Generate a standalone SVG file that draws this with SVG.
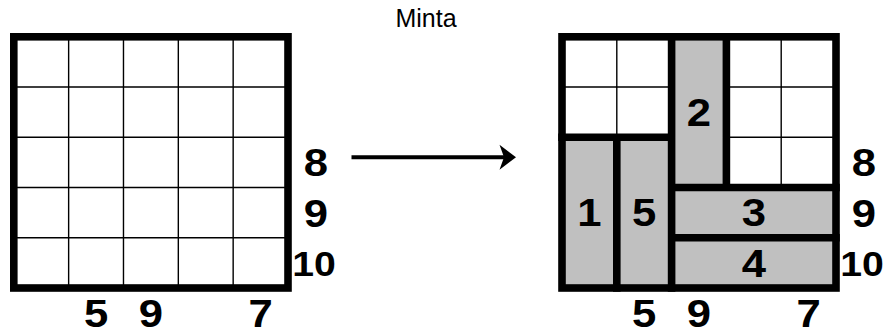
<svg xmlns="http://www.w3.org/2000/svg" width="885" height="335" viewBox="0 0 885 335">
<style>
.bg{fill:#ffffff}
.thin{stroke:#000;stroke-width:1.4;fill:none}
.thick{stroke:#000;stroke-width:7.6;fill:none;stroke-linecap:square}
.frame{stroke:#000;stroke-width:7.6;fill:none;stroke-linejoin:miter}
.piece{fill:#c0c0c0;stroke:none}
.num{font-family:"Liberation Sans",Arial,sans-serif;font-weight:bold;font-size:39px;fill:#000;text-anchor:middle;transform-box:fill-box;transform-origin:center;transform:scaleX(1.12)}
.num10{font-size:35px}
.title{font-family:"Liberation Sans",Arial,sans-serif;font-size:25px;fill:#000;text-anchor:middle}
</style>
<rect class="bg" x="0" y="0" width="885" height="335"/>
<text id="title" class="title" x="426" y="27">Minta</text>

<g id="left-grid">
  <rect x="13.8" y="36.8" width="274.2" height="251.2" fill="#fff"/>
  <path class="thin" d="M68.64 36.8V288M123.48 36.8V288M178.32 36.8V288M233.16 36.8V288M13.8 87.04H288M13.8 137.28H288M13.8 187.52H288M13.8 237.76H288"/>
  <rect class="frame" x="13.8" y="36.8" width="274.2" height="251.2"/>
</g>
<g id="left-row-labels">
  <text class="num" x="316" y="176.5">8</text>
  <text class="num" x="316" y="227">9</text>
  <text class="num num10" x="314" y="276.5">10</text>
</g>
<g id="left-col-labels">
  <text class="num" x="96.2" y="327">5</text>
  <text class="num" x="151" y="327">9</text>
  <text class="num" x="260.6" y="327">7</text>
</g>

<g id="connectors">
  <line x1="351.5" y1="157.3" x2="506" y2="157.3" stroke="#000" stroke-width="4"/>
  <polygon points="516,157.3 499.5,144.8 504,157.3 499.5,169.8" fill="#000"/>
</g>

<g id="right-grid">
  <rect x="562" y="36.8" width="274" height="251.2" fill="#fff"/>
  <rect id="piece-1" class="piece" x="562" y="137.28" width="54.8" height="150.72"/>
  <rect id="piece-5" class="piece" x="616.8" y="137.28" width="54.8" height="150.72"/>
  <rect id="piece-2" class="piece" x="671.6" y="36.8" width="54.8" height="150.72"/>
  <rect id="piece-3" class="piece" x="671.6" y="187.52" width="164.4" height="50.24"/>
  <rect id="piece-4" class="piece" x="671.6" y="237.76" width="164.4" height="50.24"/>
  <path class="thin" d="M616.8 36.8V137.28M562 87.04H671.6M781.2 36.8V187.52M726.4 87.04H836M726.4 137.28H836"/>
  <path class="thick" d="M616.8 137.28V288M671.6 36.8V288M726.4 36.8V187.52M562 137.28H671.6M671.6 187.52H836M671.6 237.76H836"/>
  <rect class="frame" x="562" y="36.8" width="274" height="251.2"/>
  <text class="num" x="589.4" y="226">1</text>
  <text class="num" x="644.2" y="226">5</text>
  <text class="num" x="699" y="126">2</text>
  <text class="num" x="753.8" y="226.5">3</text>
  <text class="num" x="753.8" y="277">4</text>
</g>
<g id="right-row-labels">
  <text class="num" x="864" y="176.5">8</text>
  <text class="num" x="864" y="227">9</text>
  <text class="num num10" x="862" y="276.5">10</text>
</g>
<g id="right-col-labels">
  <text class="num" x="644.2" y="327">5</text>
  <text class="num" x="699" y="327">9</text>
  <text class="num" x="808.6" y="327">7</text>
</g>
</svg>
